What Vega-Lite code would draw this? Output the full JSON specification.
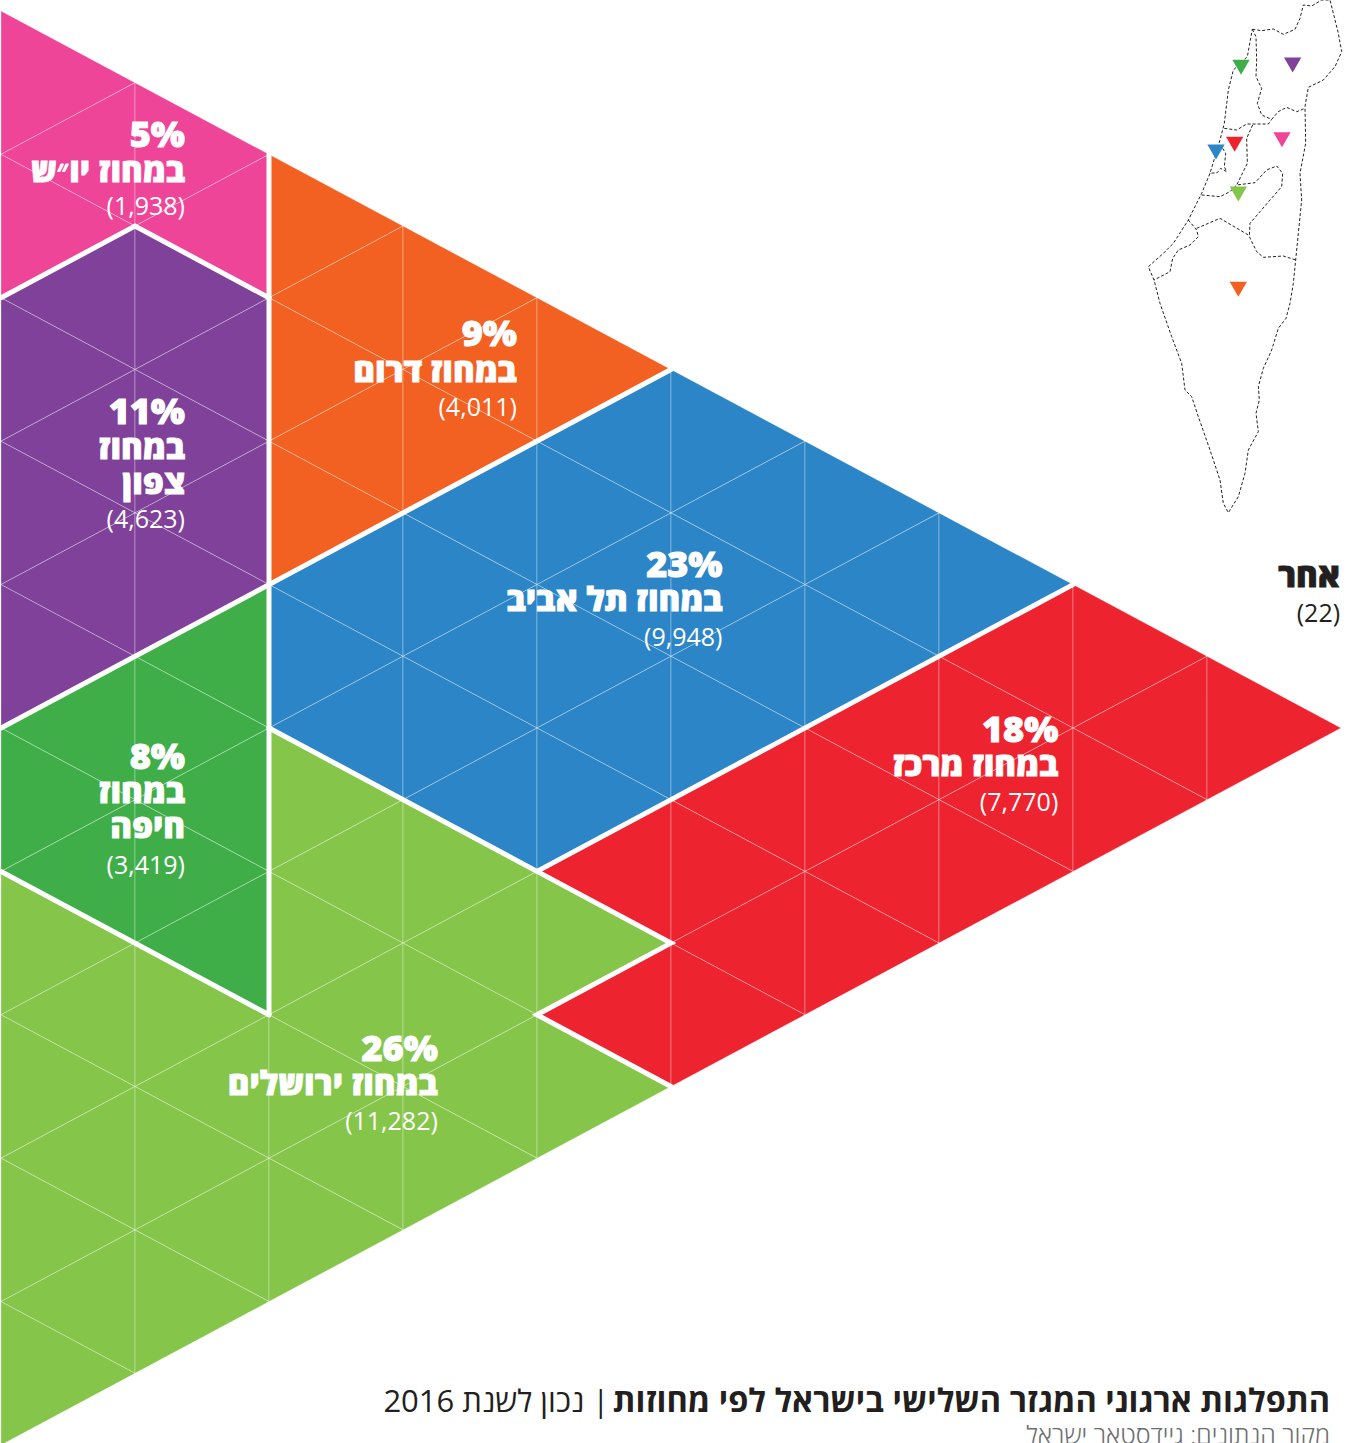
{"$schema":"https://vega.github.io/schema/vega-lite/v6.json","width":1352,"height":1443,"padding":0,"autosize":{"type":"none"},"background":"white","config":{"view":{"stroke":null}},
"datasets":{
"cells":[
{"k":0,"m":-9,"t":"R","r":"Judea"},{"k":0,"m":-8,"t":"L","r":"Judea"},{"k":0,"m":-7,"t":"R","r":"Judea"},{"k":1,"m":-8,"t":"R","r":"Judea"},{"k":1,"m":-7,"t":"L","r":"Judea"},
{"k":0,"m":-6,"t":"L","r":"North"},{"k":0,"m":-5,"t":"R","r":"North"},{"k":0,"m":-4,"t":"L","r":"North"},{"k":0,"m":-3,"t":"R","r":"North"},{"k":0,"m":-2,"t":"L","r":"North"},{"k":0,"m":-1,"t":"R","r":"North"},{"k":1,"m":-6,"t":"R","r":"North"},{"k":1,"m":-5,"t":"L","r":"North"},{"k":1,"m":-4,"t":"R","r":"North"},{"k":1,"m":-3,"t":"L","r":"North"},{"k":1,"m":-2,"t":"R","r":"North"},
{"k":0,"m":0,"t":"L","r":"Haifa"},{"k":0,"m":1,"t":"R","r":"Haifa"},{"k":0,"m":2,"t":"L","r":"Haifa"},{"k":1,"m":-1,"t":"L","r":"Haifa"},{"k":1,"m":0,"t":"R","r":"Haifa"},{"k":1,"m":1,"t":"L","r":"Haifa"},{"k":1,"m":2,"t":"R","r":"Haifa"},{"k":1,"m":3,"t":"L","r":"Haifa"},
{"k":0,"m":3,"t":"R","r":"Jerusalem"},{"k":0,"m":4,"t":"L","r":"Jerusalem"},{"k":0,"m":5,"t":"R","r":"Jerusalem"},{"k":0,"m":6,"t":"L","r":"Jerusalem"},{"k":0,"m":7,"t":"R","r":"Jerusalem"},{"k":0,"m":8,"t":"L","r":"Jerusalem"},{"k":0,"m":9,"t":"R","r":"Jerusalem"},{"k":1,"m":4,"t":"R","r":"Jerusalem"},{"k":1,"m":5,"t":"L","r":"Jerusalem"},{"k":1,"m":6,"t":"R","r":"Jerusalem"},{"k":1,"m":7,"t":"L","r":"Jerusalem"},{"k":1,"m":8,"t":"R","r":"Jerusalem"},{"k":2,"m":1,"t":"R","r":"Jerusalem"},{"k":2,"m":2,"t":"L","r":"Jerusalem"},{"k":2,"m":3,"t":"R","r":"Jerusalem"},{"k":2,"m":4,"t":"L","r":"Jerusalem"},{"k":2,"m":5,"t":"R","r":"Jerusalem"},{"k":2,"m":6,"t":"L","r":"Jerusalem"},{"k":2,"m":7,"t":"R","r":"Jerusalem"},{"k":3,"m":2,"t":"R","r":"Jerusalem"},{"k":3,"m":3,"t":"L","r":"Jerusalem"},{"k":3,"m":4,"t":"R","r":"Jerusalem"},{"k":3,"m":5,"t":"L","r":"Jerusalem"},{"k":3,"m":6,"t":"R","r":"Jerusalem"},{"k":4,"m":3,"t":"R","r":"Jerusalem"},{"k":4,"m":5,"t":"R","r":"Jerusalem"},
{"k":2,"m":-7,"t":"R","r":"South"},{"k":2,"m":-6,"t":"L","r":"South"},{"k":2,"m":-5,"t":"R","r":"South"},{"k":2,"m":-4,"t":"L","r":"South"},{"k":2,"m":-3,"t":"R","r":"South"},{"k":3,"m":-6,"t":"R","r":"South"},{"k":3,"m":-5,"t":"L","r":"South"},{"k":3,"m":-4,"t":"R","r":"South"},{"k":4,"m":-5,"t":"R","r":"South"},
{"k":2,"m":-2,"t":"L","r":"TelAviv"},{"k":2,"m":-1,"t":"R","r":"TelAviv"},{"k":2,"m":0,"t":"L","r":"TelAviv"},{"k":3,"m":-3,"t":"L","r":"TelAviv"},{"k":3,"m":-2,"t":"R","r":"TelAviv"},{"k":3,"m":-1,"t":"L","r":"TelAviv"},{"k":3,"m":0,"t":"R","r":"TelAviv"},{"k":3,"m":1,"t":"L","r":"TelAviv"},{"k":4,"m":-4,"t":"L","r":"TelAviv"},{"k":4,"m":-3,"t":"R","r":"TelAviv"},{"k":4,"m":-2,"t":"L","r":"TelAviv"},{"k":4,"m":-1,"t":"R","r":"TelAviv"},{"k":4,"m":0,"t":"L","r":"TelAviv"},{"k":4,"m":1,"t":"R","r":"TelAviv"},{"k":5,"m":-4,"t":"R","r":"TelAviv"},{"k":5,"m":-3,"t":"L","r":"TelAviv"},{"k":5,"m":-2,"t":"R","r":"TelAviv"},{"k":5,"m":-1,"t":"L","r":"TelAviv"},{"k":5,"m":0,"t":"R","r":"TelAviv"},{"k":6,"m":-3,"t":"R","r":"TelAviv"},{"k":6,"m":-2,"t":"L","r":"TelAviv"},{"k":6,"m":-1,"t":"R","r":"TelAviv"},{"k":7,"m":-2,"t":"R","r":"TelAviv"},
{"k":4,"m":2,"t":"L","r":"Center"},{"k":4,"m":4,"t":"L","r":"Center"},{"k":5,"m":1,"t":"L","r":"Center"},{"k":5,"m":2,"t":"R","r":"Center"},{"k":5,"m":3,"t":"L","r":"Center"},{"k":5,"m":4,"t":"R","r":"Center"},{"k":6,"m":0,"t":"L","r":"Center"},{"k":6,"m":1,"t":"R","r":"Center"},{"k":6,"m":2,"t":"L","r":"Center"},{"k":6,"m":3,"t":"R","r":"Center"},{"k":7,"m":-1,"t":"L","r":"Center"},{"k":7,"m":0,"t":"R","r":"Center"},{"k":7,"m":1,"t":"L","r":"Center"},{"k":7,"m":2,"t":"R","r":"Center"},{"k":8,"m":-1,"t":"R","r":"Center"},{"k":8,"m":0,"t":"L","r":"Center"},{"k":8,"m":1,"t":"R","r":"Center"},{"k":9,"m":0,"t":"R","r":"Center"}
],
"borders":[
{"b":1,"k":2,"m":-8},{"b":1,"k":2,"m":4},
{"b":2,"k":0,"m":-6},{"b":2,"k":1,"m":-7},{"b":2,"k":2,"m":-6},
{"b":3,"k":0,"m":0},{"b":3,"k":2,"m":-2},{"b":3,"k":5,"m":-5},
{"b":4,"k":0,"m":2},{"b":4,"k":2,"m":4},
{"b":5,"k":2,"m":0},{"b":5,"k":4,"m":2},{"b":5,"k":5,"m":3},{"b":5,"k":4,"m":4},{"b":5,"k":5,"m":5},
{"b":6,"k":4,"m":2},{"b":6,"k":8,"m":-2}
],
"labels":[
{"k":1.373,"m":-8.103,"s":"pct","c":"w","txt":"5%"},{"k":1.373,"m":-7.615,"s":"name","c":"w","txt":"במחוז יו״ש"},{"k":1.373,"m":-7.155,"s":"n","c":"w","txt":"(1,938)"},
{"k":3.85,"m":-5.328,"s":"pct","c":"w","txt":"9%"},{"k":3.85,"m":-4.825,"s":"name","c":"w","txt":"במחוז דרום"},{"k":3.85,"m":-4.352,"s":"n","c":"w","txt":"(4,011)"},
{"k":1.373,"m":-4.24,"s":"pct","c":"w","txt":"11%"},{"k":1.373,"m":-3.751,"s":"name","c":"w","txt":"במחוז"},{"k":1.373,"m":-3.264,"s":"name","c":"w","txt":"צפון"},{"k":1.373,"m":-2.789,"s":"n","c":"w","txt":"(4,623)"},
{"k":5.384,"m":-2.106,"s":"pct","c":"w","txt":"23%"},{"k":5.384,"m":-1.631,"s":"name","c":"w","txt":"במחוז תל אביב"},{"k":5.384,"m":-1.144,"s":"n","c":"w","txt":"(9,948)"},
{"k":7.89,"m":0.195,"s":"pct","c":"w","txt":"18%"},{"k":7.89,"m":0.669,"s":"name","c":"w","txt":"במחוז מרכז"},{"k":7.89,"m":1.158,"s":"n","c":"w","txt":"(7,770)"},
{"k":1.373,"m":0.571,"s":"pct","c":"w","txt":"8%"},{"k":1.373,"m":1.046,"s":"name","c":"w","txt":"במחוז"},{"k":1.373,"m":1.534,"s":"name","c":"w","txt":"חיפה"},{"k":1.373,"m":2.036,"s":"n","c":"w","txt":"(3,419)"},
{"k":3.26,"m":4.644,"s":"pct","c":"w","txt":"26%"},{"k":3.26,"m":5.119,"s":"name","c":"w","txt":"במחוז ירושלים"},{"k":3.26,"m":5.606,"s":"n","c":"w","txt":"(11,282)"},
{"k":9.993,"m":-1.966,"s":"name","c":"k","txt":"אחר"},{"k":9.993,"m":-1.479,"s":"n","c":"k","txt":"(22)"}
],
"mapLines":[
{"l":"outer","x":367,"y":88},{"l":"outer","x":395,"y":92},{"l":"outer","x":430,"y":87},{"l":"outer","x":460,"y":103},{"l":"outer","x":495,"y":88},{"l":"outer","x":510,"y":55},{"l":"outer","x":520,"y":15},{"l":"outer","x":545,"y":18},{"l":"outer","x":575,"y":0},{"l":"outer","x":600,"y":0},{"l":"outer","x":610,"y":40},{"l":"outer","x":625,"y":100},{"l":"outer","x":635,"y":155},{"l":"outer","x":615,"y":200},{"l":"outer","x":580,"y":240},{"l":"outer","x":535,"y":262},{"l":"outer","x":525,"y":320},{"l":"outer","x":527,"y":430},{"l":"outer","x":510,"y":520},{"l":"outer","x":515,"y":600},{"l":"outer","x":505,"y":700},{"l":"outer","x":497,"y":780},{"l":"outer","x":490,"y":850},{"l":"outer","x":480,"y":910},{"l":"outer","x":468,"y":955},{"l":"outer","x":445,"y":985},{"l":"outer","x":425,"y":1050},{"l":"outer","x":400,"y":1105},{"l":"outer","x":385,"y":1160},{"l":"outer","x":388,"y":1200},{"l":"outer","x":378,"y":1240},{"l":"outer","x":385,"y":1295},{"l":"outer","x":355,"y":1350},{"l":"outer","x":345,"y":1420},{"l":"outer","x":325,"y":1490},{"l":"outer","x":295,"y":1538},{"l":"outer","x":280,"y":1510},{"l":"outer","x":270,"y":1440},{"l":"outer","x":240,"y":1350},{"l":"outer","x":205,"y":1250},{"l":"outer","x":185,"y":1190},{"l":"outer","x":165,"y":1170},{"l":"outer","x":155,"y":1090},{"l":"outer","x":125,"y":1010},{"l":"outer","x":90,"y":910},{"l":"outer","x":72,"y":840},{"l":"outer","x":55,"y":800},{"l":"outer","x":100,"y":760},{"l":"outer","x":130,"y":730},{"l":"outer","x":175,"y":660},{"l":"outer","x":215,"y":580},{"l":"outer","x":240,"y":520},{"l":"outer","x":270,"y":420},{"l":"outer","x":283,"y":370},{"l":"outer","x":295,"y":270},{"l":"outer","x":310,"y":210},{"l":"outer","x":352,"y":170},{"l":"outer","x":367,"y":88},
{"l":"a","x":367,"y":88},{"l":"a","x":378,"y":110},{"l":"a","x":380,"y":180},{"l":"a","x":378,"y":230},{"l":"a","x":395,"y":265},{"l":"a","x":382,"y":310},{"l":"a","x":395,"y":345},{"l":"a","x":425,"y":358},{"l":"a","x":445,"y":335},{"l":"a","x":470,"y":322},{"l":"a","x":500,"y":335},{"l":"a","x":525,"y":325},
{"l":"b","x":283,"y":385},{"l":"b","x":320,"y":390},{"l":"b","x":350,"y":372},{"l":"b","x":415,"y":372},{"l":"b","x":425,"y":358},
{"l":"c","x":368,"y":375},{"l":"c","x":350,"y":415},{"l":"c","x":352,"y":490},{"l":"c","x":320,"y":555},{"l":"c","x":375,"y":548},{"l":"c","x":410,"y":510},{"l":"c","x":440,"y":498},{"l":"c","x":458,"y":520},{"l":"c","x":455,"y":560},{"l":"c","x":420,"y":600},{"l":"c","x":390,"y":635},{"l":"c","x":360,"y":670},{"l":"c","x":358,"y":710},{"l":"c","x":380,"y":755},{"l":"c","x":400,"y":772},{"l":"c","x":460,"y":768},{"l":"c","x":497,"y":780},
{"l":"d","x":175,"y":660},{"l":"d","x":200,"y":690},{"l":"d","x":205,"y":710},{"l":"d","x":180,"y":735},{"l":"d","x":145,"y":750},{"l":"d","x":128,"y":775},{"l":"d","x":120,"y":815},{"l":"d","x":72,"y":840},
{"l":"e","x":200,"y":685},{"l":"e","x":270,"y":655},{"l":"e","x":355,"y":705},
{"l":"f","x":215,"y":585},{"l":"f","x":270,"y":590},{"l":"f","x":300,"y":575},{"l":"f","x":320,"y":555},
{"l":"g","x":278,"y":445},{"l":"g","x":287,"y":460},{"l":"g","x":283,"y":500},{"l":"g","x":290,"y":515},{"l":"g","x":272,"y":505},{"l":"g","x":262,"y":518},{"l":"g","x":237,"y":520}
],
"mapPoints":[
{"r":"Haifa","x":333,"y":202},{"r":"North","x":488,"y":195},{"r":"Center","x":314,"y":433},{"r":"Judea","x":456,"y":419},{"r":"TelAviv","x":258,"y":456},{"r":"Jerusalem","x":325,"y":582},{"r":"South","x":325,"y":868}
],
"titles":[
{"k":9.918,"m":9.539,"s":"bold","txt":"התפלגות ארגוני המגזר השלישי בישראל לפי מחוזות"},
{"k":4.54,"m":9.539,"s":"reg","txt":"\u200f| נכון לשנת 2016"},
{"k":9.918,"m":9.992,"s":"src","txt":"מקור הנתונים: גיידסטאר ישראל"}
]
},
"layer":[
{"layer":[
{"data":{"name":"cells"},"mark":{"type":"point","filled":true,"opacity":1,"size":20564,"clip":true,"stroke":"white","strokeWidth":0.8,"strokeOpacity":0.38},
"encoding":{"x":{"field":"k","type":"quantitative","axis":null,"scale":{"domain":[-0.00746,10.082],"range":[0,1352],"nice":false,"zero":false}},"y":{"field":"m","type":"quantitative","axis":null,"scale":{"domain":[-10.153,9.972],"range":[0,1443],"nice":false,"zero":false}},
"shape":{"field":"t","type":"nominal","legend":null,"scale":{"domain":["R","L"],"range":["M0,-1L1.869,0L0,1Z","M0,0L1.869,-1L1.869,1Z"]}},
"fill":{"field":"r","type":"nominal","legend":null,"scale":{"domain":["Judea","North","Haifa","Jerusalem","South","TelAviv","Center"],"range":["#EF4598","#7F4199","#3FAE49","#85C54A","#F26122","#2B85C7","#EE2330"]}}}},
{"data":{"name":"borders"},"mark":{"type":"line","color":"white","strokeWidth":5,"order":null,"strokeCap":"round","clip":true},
"encoding":{"x":{"field":"k","type":"quantitative"},"y":{"field":"m","type":"quantitative"},"detail":{"field":"b"}}},
{"data":{"name":"labels"},"transform":[{"filter":"datum.s=='pct'"}],"mark":{"type":"text","align":"right","baseline":"alphabetic","font":"Open Sans","fontWeight":800,"fontSize":36,"color":"white","stroke":"white","strokeWidth":1},
"encoding":{"x":{"field":"k","type":"quantitative"},"y":{"field":"m","type":"quantitative"},"text":{"field":"txt"}}},
{"data":{"name":"labels"},"transform":[{"filter":"datum.s=='name' && datum.c=='w'"}],"mark":{"type":"text","align":"right","baseline":"alphabetic","font":"Open Sans","fontWeight":800,"fontSize":33,"color":"white","stroke":"white","strokeWidth":0.8},
"encoding":{"x":{"field":"k","type":"quantitative"},"y":{"field":"m","type":"quantitative"},"text":{"field":"txt"}}},
{"data":{"name":"labels"},"transform":[{"filter":"datum.s=='name' && datum.c=='k'"}],"mark":{"type":"text","align":"right","baseline":"alphabetic","font":"Open Sans","fontWeight":800,"fontSize":33,"color":"#231F20","stroke":"#231F20","strokeWidth":0.8},
"encoding":{"x":{"field":"k","type":"quantitative"},"y":{"field":"m","type":"quantitative"},"text":{"field":"txt"}}},
{"data":{"name":"labels"},"transform":[{"filter":"datum.s=='n' && datum.c=='w'"}],"mark":{"type":"text","align":"right","baseline":"alphabetic","font":"Open Sans","fontWeight":400,"fontSize":25,"color":"white"},
"encoding":{"x":{"field":"k","type":"quantitative"},"y":{"field":"m","type":"quantitative"},"text":{"field":"txt"}}},
{"data":{"name":"labels"},"transform":[{"filter":"datum.s=='n' && datum.c=='k'"}],"mark":{"type":"text","align":"right","baseline":"alphabetic","font":"Open Sans","fontWeight":400,"fontSize":25,"color":"#231F20"},
"encoding":{"x":{"field":"k","type":"quantitative"},"y":{"field":"m","type":"quantitative"},"text":{"field":"txt"}}},
{"data":{"name":"titles"},"transform":[{"filter":"datum.s=='bold'"}],"mark":{"type":"text","align":"right","baseline":"alphabetic","font":"Open Sans","fontWeight":700,"fontSize":32.5,"color":"#231F20"},
"encoding":{"x":{"field":"k","type":"quantitative"},"y":{"field":"m","type":"quantitative"},"text":{"field":"txt"}}},
{"data":{"name":"titles"},"transform":[{"filter":"datum.s=='reg'"}],"mark":{"type":"text","align":"right","baseline":"alphabetic","font":"Open Sans","fontWeight":400,"fontSize":31,"color":"#231F20"},
"encoding":{"x":{"field":"k","type":"quantitative"},"y":{"field":"m","type":"quantitative"},"text":{"field":"txt"}}},
{"data":{"name":"titles"},"transform":[{"filter":"datum.s=='src'"}],"mark":{"type":"text","align":"right","baseline":"alphabetic","font":"Open Sans","fontWeight":300,"fontSize":25,"color":"#6D6E71"},
"encoding":{"x":{"field":"k","type":"quantitative"},"y":{"field":"m","type":"quantitative"},"text":{"field":"txt"}}}
]},
{"layer":[
{"data":{"name":"mapLines"},"mark":{"type":"line","color":"#231F20","strokeWidth":1,"strokeDash":[3,2],"order":null,"clip":true},
"encoding":{"x":{"field":"x","type":"quantitative","axis":null,"scale":{"domain":[-3390,666],"range":[0,1352],"nice":false,"zero":false}},"y":{"field":"y","type":"quantitative","axis":null,"scale":{"domain":[0,4329],"range":[0,1443],"nice":false,"zero":false}},"detail":{"field":"l"}}},
{"data":{"name":"mapPoints"},"mark":{"type":"point","shape":"triangle-down","filled":true,"opacity":1,"size":300},
"encoding":{"x":{"field":"x","type":"quantitative"},"y":{"field":"y","type":"quantitative"},
"fill":{"field":"r","type":"nominal","legend":null,"scale":{"domain":["Judea","North","Haifa","Jerusalem","South","TelAviv","Center"],"range":["#EF4598","#7F4199","#3FAE49","#85C54A","#F26122","#2B85C7","#EE2330"]}}}}
]}
],
"resolve":{"scale":{"x":"independent","y":"independent"}}}
